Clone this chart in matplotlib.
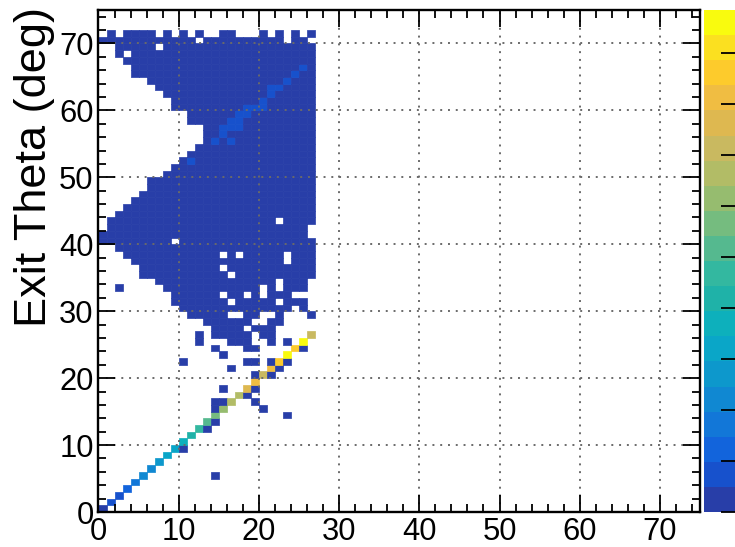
import numpy as np
import matplotlib
matplotlib.use("Agg")
import matplotlib.pyplot as plt
from matplotlib.colors import ListedColormap, BoundaryNorm

plt.rcParams['font.family'] = ['Liberation Sans', 'DejaVu Sans']

level_colors = ['#283ea8', '#1751cc', '#1264dc', '#1277d8', '#1088d2', '#0d98cc',
                '#0aa6c8', '#0db0bc', '#1fb2a8', '#33b8a0', '#55b98f', '#75bc7f',
                '#96bc6f', '#b2bc66', '#c9b960', '#deb850', '#f0bd42', '#fdcb2c',
                '#fbe020', '#f9fb0e']

# row: (first column, last column, empty columns)
band_rows = {
    70: (0, 26, [12, 23, 26]), 69: (2, 26, [7]), 68: (2, 26, [3]), 67: (3, 26, []),
    66: (4, 26, []), 65: (4, 26, []), 64: (6, 26, []), 63: (7, 26, []), 62: (8, 26, []),
    61: (9, 26, []), 60: (9, 26, []), 59: (11, 26, []), 58: (11, 26, []), 57: (13, 26, []),
    56: (13, 26, []), 55: (13, 26, []), 54: (12, 26, []), 53: (11, 26, []), 52: (10, 26, []),
    51: (9, 26, []), 50: (8, 26, []), 49: (6, 26, []), 48: (6, 26, []), 47: (5, 26, []),
    46: (4, 26, []), 45: (3, 26, []), 44: (2, 26, []), 43: (1, 26, [22]), 42: (1, 26, [26]),
    41: (0, 26, [26]), 40: (0, 26, [9]), 39: (2, 26, []), 38: (3, 26, [15, 17, 23]),
    37: (4, 26, [23]), 36: (5, 26, [15]), 35: (5, 26, [16]), 34: (7, 26, [22, 26]),
    33: (8, 26, [20, 22, 26]), 32: (9, 26, [15, 18, 20, 24, 25, 26]), 31: (9, 26, [16, 22, 26]),
    30: (10, 26, [24, 26]), 29: (11, 26, [16, 17, 20, 21, 23, 24, 25]),
    28: (13, 22, [19, 20]), 27: (14, 21, [18]), 26: (14, 21, [19]),
}
top_row_cols = [1, 3, 4, 5, 6, 8, 10, 12, 15, 16, 20, 22, 24, 26]
top_row = 71

# (column, row) of the lone cells in the lowest colour level
lone_cols = [2, 12, 12, 16, 17, 18, 21, 23, 14, 18, 19, 25, 15, 10, 18, 19, 21, 23, 16, 22,
             19, 21, 15, 19, 18, 14, 15, 19, 14, 20, 23, 14, 13, 10, 14]
lone_rows = [33, 26, 25, 25, 25, 25, 25, 25, 24, 24, 24, 24, 23, 22, 22, 22, 22, 22, 21, 21,
             20, 20, 18, 18, 17, 16, 16, 16, 15, 15, 14, 13, 12, 9, 5]

# (column, row) of the cells one level up, in the upper band
light_cols = [25, 24, 23, 21, 22, 21, 20, 18, 19, 20, 17, 18, 16, 17, 15, 16, 17, 15, 14, 16, 11]
light_rows = [66, 65, 64, 63, 63, 62, 61, 60, 60, 60, 59, 59, 58, 58, 57, 57, 57, 56, 55, 55, 52]

# colour level of the diagonal cell in column i, row i
diag_levels = [0, 1, 1, 2, 3, 4, 4, 5, 6, 6, 7, 8, 9, 10, 11, 12, 13, 13, 15, 16, 14, 16,
               17, 19, 17, 19, 14]

x_ticks = [0, 10, 20, 30, 40, 50, 60, 70]
y_ticks = [0, 10, 20, 30, 40, 50, 60, 70]
y_label = 'Exit Theta (deg)'
palette_ticks = [0, 1, 2, 3, 4, 5, 6, 7, 8, 9]
palette_max = 9.84

W, H = 735, 547
fig = plt.figure(figsize=(W / 100, H / 100), dpi=100)
ax = fig.add_axes([98.5 / W, (H - 512) / H, 601.5 / W, 502 / H])

grid = np.full((75, 75), np.nan)
for r, (a, b, holes) in band_rows.items():
    for c in range(a, b + 1):
        if c not in holes:
            grid[r, c] = 0
for c in top_row_cols:
    grid[top_row, c] = 0
for c, r in zip(lone_cols, lone_rows):
    grid[r, c] = 0
for c, r in zip(light_cols, light_rows):
    grid[r, c] = 1
for i, lv in enumerate(diag_levels):
    grid[i, i] = lv

cmap = ListedColormap(level_colors)
norm = BoundaryNorm(np.arange(-0.5, 20.5), 20)
edges = np.arange(76)
ax.pcolormesh(edges, edges, np.ma.masked_invalid(grid), cmap=cmap, norm=norm, zorder=1,
              edgecolors='face', linewidth=0.5, antialiased=True)

ax.set_xlim(0, 75)
ax.set_ylim(0, 75)
ax.set_xticks(x_ticks)
ax.set_yticks(y_ticks)
ax.set_xticks(np.arange(0, 76, 2), minor=True)
ax.set_yticks(np.arange(0, 76, 2), minor=True)
ax.tick_params(which='major', direction='in', length=12, width=1.3, top=True, right=True,
               labelsize=22.3, pad=3.5, zorder=5)
ax.tick_params(which='minor', direction='in', length=5.5, width=1.3, top=True, right=True)
ax.tick_params(axis='x', which='major', pad=3.5)
ax.set_axisbelow(False)
ax.grid(True, which='major', color='#6a6a6a', lw=1.4, linestyle=(0, (1, 3)))
for s in ax.spines.values():
    s.set_linewidth(1.7)
    s.set_zorder(6)

fig.text(35 / W, 1 - 7 / H, y_label, rotation=90, ha='center', va='top', fontsize=32.5)

cax = fig.add_axes([703.5 / W, (H - 512) / H, 31.5 / W, 502 / H])
z = np.linspace(0, palette_max, 21)
cax.pcolormesh([0, 1], z, np.arange(20).reshape(-1, 1), cmap=cmap, norm=norm)
cax.set_xlim(0, 1)
cax.set_ylim(0, palette_max)
cax.set_xticks([])
cax.yaxis.tick_right()
cax.set_yticks(palette_ticks)
cax.tick_params(axis='y', direction='in', length=10, width=1.3, labelright=False)
for s in cax.spines.values():
    s.set_visible(False)

fig.savefig('out.png', dpi=100)
